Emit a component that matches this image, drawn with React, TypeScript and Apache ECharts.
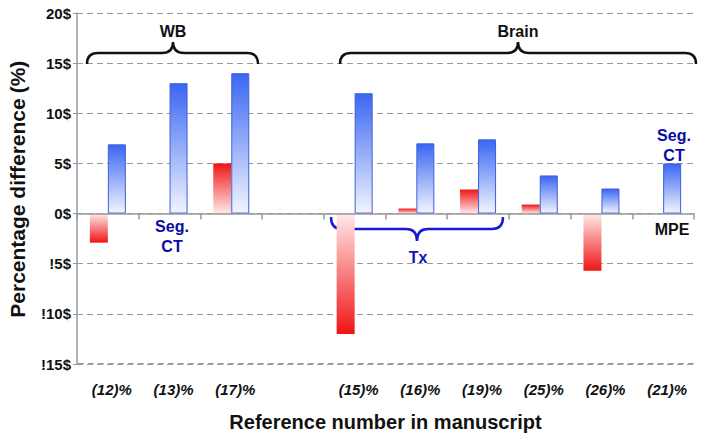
import React, { useEffect, useRef } from 'react';
import * as echarts from 'echarts';

const categories = ['(12)%', '(13)%', '(17)%', '', '(15)%', '(16)%', '(19)%', '(25)%', '(26)%', '(21)%'];
const redValues: (number | null)[] = [-2.9, 0, 5.0, null, -12.0, 0.5, 2.4, 0.9, -5.7, 0];
const blueValues: (number | null)[] = [6.9, 13.0, 14.0, null, 12.0, 7.0, 7.4, 3.8, 2.5, 5.0];
const yTickValues = [-15, -10, -5, 0, 5, 10, 15, 20];
const yTickLabels = ['!15$', '!10$', '!5$', '0$', '5$', '10$', '15$', '20$'];

const FONT = '"Liberation Sans", Arial, sans-serif';
const GRID = { left: 77, right: 10, top: 13, bottom: 76 };

const BRACES: Record<string, string> = {
  braceWB: 'M87,64 Q87,53 98,53 L162,53 Q173,53 173,42 Q173,53 184,53 L247,53 Q258,53 258,64',
  braceBrain: 'M340,64 Q340,53 351,53 L507,53 Q518,53 518,42 Q518,53 529,53 L685,53 Q696,53 696,64',
  braceTx: 'M331,217 Q331,229 342,229 L406,229 Q417,229 417,241 Q417,229 428,229 L492,229 Q503,229 503,217',
};
let registered = false;
function registerBraces() {
  if (registered) return;
  Object.keys(BRACES).forEach((k) => {
    echarts.graphic.registerShape(k, echarts.graphic.extendPath(BRACES[k], {}) as any);
  });
  registered = true;
}

function grad(positive: boolean, strong: string, light: string) {
  return new echarts.graphic.LinearGradient(0, 0, 0, 1, positive
    ? [{ offset: 0, color: strong }, { offset: 1, color: light }]
    : [{ offset: 0, color: light }, { offset: 1, color: strong }]);
}

export default function App() {
  const ref = useRef<HTMLDivElement>(null);
  useEffect(() => {
    if (!ref.current) return;
    registerBraces();
    const chart = echarts.init(ref.current, undefined, { renderer: 'svg' });
    const redData = redValues.map((v) =>
      v === null ? null : { value: v, itemStyle: { color: grad(v >= 0, '#f01414', '#ffeaea') } });
    const blueData = blueValues.map((v) =>
      v === null ? null : { value: v, itemStyle: { color: grad(v >= 0, '#3a66f2', '#f2f5ff') } });
    const txt = (x: number, y: number, text: string, color: string, size = 16) => ({
      type: 'text', x, y,
      style: { text, fill: color, font: `bold ${size}px ${FONT}`, align: 'center', verticalAlign: 'middle' },
    });
    const gridLineStyle = { color: '#999', type: [6, 4], width: 1 };
    chart.setOption({
      animation: false,
      grid: { ...GRID, outerBoundsMode: 'none', containLabel: false },
      xAxis: [
        {
          type: 'category',
          data: categories,
          axisLine: { onZero: true, lineStyle: { color: '#999', width: 1.5 } },
          axisTick: { show: true, length: 6, lineStyle: { color: '#999', width: 1.5 } },
          axisLabel: { show: false },
          z: 5,
        },
        {
          type: 'category',
          data: categories,
          position: 'bottom',
          axisLine: { show: false, onZero: false },
          axisTick: { show: false },
          axisLabel: {
            margin: 18, interval: 0, color: '#111', fontFamily: FONT, fontSize: 15,
            fontWeight: 'bold', fontStyle: 'italic', padding: [0, 0, 0, 8],
          },
          name: 'Reference number in manuscript',
          nameLocation: 'middle',
          nameGap: 48,
          nameTextStyle: { color: '#111', fontFamily: FONT, fontSize: 20, fontWeight: 'bold' },
        },
      ],
      yAxis: {
        type: 'value',
        min: -15, max: 20, interval: 5,
        axisLine: { show: true, lineStyle: { color: '#999', width: 1.5 } },
        axisTick: { show: true, length: 4, lineStyle: { color: '#999', width: 1 } },
        splitLine: { show: true, lineStyle: gridLineStyle },
        axisLabel: {
          margin: 6, color: '#111', fontFamily: FONT, fontSize: 15, fontWeight: 'bold',
          formatter: (v: number) => {
            const i = yTickValues.indexOf(v);
            return i >= 0 ? yTickLabels[i] : '';
          },
        },
      },
      series: [
        { type: 'bar', xAxisIndex: 0, data: redData, barWidth: 18, barGap: '0%' },
        {
          type: 'bar', xAxisIndex: 0, data: blueData, barWidth: 18, barGap: '0%',
          itemStyle: { borderColor: '#3f5fd8', borderWidth: 1 },
        },
      ],
    });
    let yMin = chart.convertToPixel({ yAxisIndex: 0 }, yTickValues[0]) as unknown as number;
    if (typeof yMin !== 'number' || !isFinite(yMin)) yMin = 440 - GRID.bottom;
    const yLine = Math.round(yMin) - 0.5;
    chart.setOption({
      graphic: [
        {
          type: 'line', silent: true, z: 10,
          shape: { x1: GRID.left + 1, y1: yLine, x2: 704 - GRID.right, y2: yLine },
          style: { stroke: '#999', lineWidth: 1, lineDash: [6, 4] },
        },
        { type: 'braceWB', x: 0, y: 0, style: { fill: 'none', stroke: '#111', lineWidth: 2.5 } },
        { type: 'braceBrain', x: 0, y: 0, style: { fill: 'none', stroke: '#111', lineWidth: 2.5 } },
        { type: 'braceTx', x: 0, y: 0, style: { fill: 'none', stroke: '#1818d8', lineWidth: 2.5 } },
        {
          type: 'text', x: 17, y: 208, rotation: Math.PI / 2,
          style: {
            text: 'Percentage difference', fill: '#111', font: `bold 21px ${FONT}`,
            align: 'center', verticalAlign: 'middle',
          },
        },
        {
          type: 'text', x: 17, y: 77, rotation: Math.PI / 2,
          style: {
            text: '(%)', fill: '#111', font: `bold 21px ${FONT}`,
            align: 'center', verticalAlign: 'middle',
          },
        },
        txt(173, 31, 'WB', '#111', 16),
        txt(518, 31, 'Brain', '#111', 16),
        txt(418, 257, 'Tx', '#1414b4', 16),
        txt(172, 226, 'Seg.', '#0a0aa8', 16),
        txt(172, 246, 'CT', '#0a0aa8', 16),
        txt(674, 135, 'Seg.', '#0a0aa8', 16),
        txt(674, 155, 'CT', '#0a0aa8', 16),
        txt(672, 229, 'MPE', '#111', 16),
      ],
    });
    return () => chart.dispose();
  }, []);
  return <div ref={ref} style={{ width: 704, height: 440, position: 'absolute', left: 0, top: 0 }} />;
}
